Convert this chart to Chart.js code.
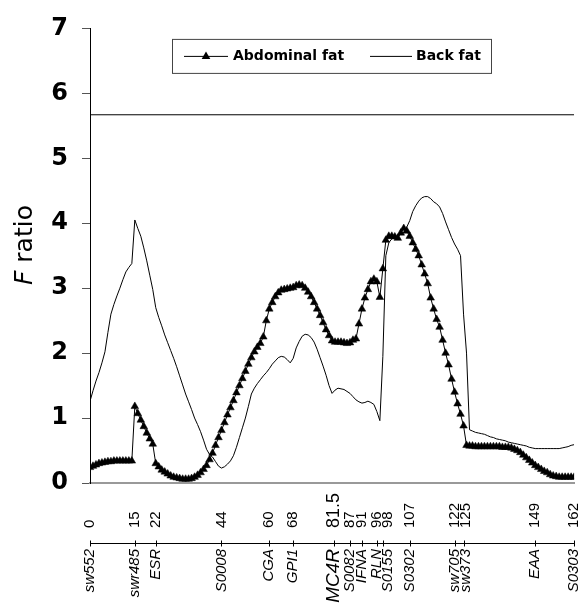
<!DOCTYPE html>
<html lang="en">
<head>
<meta charset="utf-8">
<title>F ratio</title>
<script src="https://cdn.jsdelivr.net/npm/chart.js@4/dist/chart.umd.min.js"></script>
<style>body{margin:0;background:#fff}</style>
</head>
<body>
<canvas id="myChart" width="579" height="606"></canvas>
<script>
// map positions (cM), one sample per cM
const positions = [
  0,1,2,3,4,5,6,7,8,9,10,11,12,13,14,15,16,17,18,19,20,21,22,23,24,25,26,27,28,29,
  30,31,32,33,34,35,36,37,38,39,40,41,42,43,44,45,46,47,48,49,50,51,52,53,54,55,56,57,58,59,
  60,61,62,63,64,65,66,67,68,69,70,71,72,73,74,75,76,77,78,79,80,81,82,83,84,85,86,87,88,89,
  90,91,92,93,94,95,96,97,98,99,100,101,102,103,104,105,106,107,108,109,110,111,112,113,114,115,116,117,118,119,
  120,121,122,123,124,125,126,127,128,129,130,131,132,133,134,135,136,137,138,139,140,141,142,143,144,145,146,147,148,149,
  150,151,152,153,154,155,156,157,158,159,160,161,162
];
const abdominal = [
  0.24,0.26,0.28,0.30,0.31,0.32,0.33,0.33,0.34,0.34,0.34,0.34,0.34,0.34,0.34,
  1.18,1.07,0.97,0.87,0.77,0.68,0.60,0.30,
  0.25,0.20,0.17,0.14,0.11,0.09,0.08,0.07,0.06,0.06,0.06,0.07,0.09,0.12,0.16,0.21,0.27,
  0.36,0.46,0.58,0.70,0.81,0.93,1.05,1.16,1.27,1.39,1.50,1.61,1.72,1.83,1.93,2.02,2.09,2.15,2.25,
  2.50,2.68,2.78,2.87,2.93,2.97,2.98,2.99,3.00,3.01,3.04,3.05,3.04,3.00,2.94,2.87,2.78,2.68,2.58,2.47,2.36,2.27,2.19,
  2.17,2.17,2.17,2.16,2.15,2.16,2.20,2.22,2.45,2.68,2.85,2.98,3.10,3.14,3.10,
  2.86,3.30,3.74,3.80,3.80,3.79,3.77,3.85,3.92,3.88,3.80,3.70,3.60,3.50,3.36,3.22,3.07,
  2.85,2.68,2.52,2.40,2.20,2.00,1.82,1.60,1.40,1.22,1.06,0.88,0.58,
  0.57,0.57,0.56,0.56,0.56,0.56,0.56,0.56,0.56,0.56,0.56,0.55,0.55,0.55,0.54,
  0.52,0.50,0.47,0.43,0.39,0.35,0.31,0.27,0.24,0.21,0.18,0.16,0.13,0.11,0.10,0.09,0.09,0.09,0.09,0.09,0.09
];
const backFat = [
  1.26,1.42,1.57,1.70,1.85,2.02,2.32,2.60,2.75,2.88,3.00,3.13,3.25,3.32,3.38,
  4.05,3.92,3.80,3.62,3.42,3.20,2.98,2.70,2.55,2.42,2.28,2.16,2.04,
  1.92,1.79,1.65,1.51,1.37,1.25,1.13,1.00,0.90,0.79,0.66,0.52,0.44,0.40,0.33,0.26,0.23,
  0.25,0.29,0.34,0.42,0.55,0.70,0.85,1.00,1.18,1.37,1.46,1.53,1.59,1.65,1.70,1.76,1.83,1.88,1.93,
  1.95,1.94,1.90,1.85,1.92,2.08,2.18,2.26,2.29,2.28,2.24,2.17,2.06,1.93,1.80,1.66,1.50,1.38,
  1.43,1.46,1.45,1.44,1.41,1.38,1.33,1.28,1.25,1.23,1.24,1.26,1.24,1.21,1.10,0.96,
  1.95,3.50,3.70,3.76,3.79,3.81,3.83,3.86,3.94,4.04,4.18,4.27,4.34,4.39,4.41,4.41,
  4.38,4.33,4.30,4.25,4.15,4.02,3.90,3.78,3.68,3.60,3.50,2.60,2.00,0.82,
  0.80,0.78,0.77,0.76,0.75,0.73,0.71,0.70,0.68,0.67,0.66,0.65,0.63,0.62,0.61,0.60,0.59,0.58,0.57,
  0.55,0.54,0.53,0.53,0.53,0.53,0.53,0.53,0.53,0.53,0.53,0.54,0.55,0.56,0.58,0.59
];
const threshold = 5.67;
const markerPos = [0, 15, 22, 44, 60, 68, 81.5, 87, 91, 96, 98, 107, 122, 125, 149, 162];
const markerNum = ['0','15','22','44','60','68','81.5','87','91','96','98','107','122','125','149','162'];
const markerName = ['sw552','swr485','ESR','S0008','CGA','GPI1','MC4R','S0082','IFNA','RLN','S0155','S0302','sw705','sw373','EAA','S0303'];
const yTicks = [0, 1, 2, 3, 4, 5, 6, 7];
const legendLabels = ['Abdominal fat', 'Back fat'];

const toXY = (ys) => ys.map((v, i) => ({x: positions[i], y: v}));

function triangle(ctx, x, y, r) {
  ctx.beginPath();
  ctx.moveTo(x, y - r);
  ctx.lineTo(x + r * 0.866, y + r * 0.5);
  ctx.lineTo(x - r * 0.866, y + r * 0.5);
  ctx.closePath();
  ctx.fill();
}

// y title, legend box and the marker map under the plot
const extras = {
  id: 'extras',
  afterDraw(chart) {
    const ctx = chart.ctx;
    const area = chart.chartArea;
    const xs = chart.scales.x;

    // y title: italic F + ratio
    ctx.save();
    ctx.translate(25, 245);
    ctx.rotate(-Math.PI / 2);
    ctx.fillStyle = '#000';
    ctx.textBaseline = 'middle';
    ctx.font = 'oblique 25px "DejaVu Sans"';
    const wF = ctx.measureText('F').width;
    ctx.font = '25px "DejaVu Sans"';
    const wR = ctx.measureText(' ratio').width;
    let sx = -(wF + wR) / 2;
    ctx.font = 'oblique 25px "DejaVu Sans"';
    ctx.textAlign = 'left';
    ctx.fillText('F', sx, 0);
    ctx.font = '25px "DejaVu Sans"';
    ctx.fillText(' ratio', sx + wF, 0);
    ctx.restore();

    // legend
    const lx = area.left + 82, ly = area.top + 10.5;
    ctx.save();
    ctx.fillStyle = '#fff';
    ctx.fillRect(lx, ly, 319, 34);
    ctx.strokeStyle = '#444';
    ctx.lineWidth = 1;
    ctx.strokeRect(lx + 0.5, ly + 0.5, 319, 34);
    const cy = ly + 17.5;
    ctx.strokeStyle = '#000';
    ctx.beginPath();
    ctx.moveTo(lx + 12, cy); ctx.lineTo(lx + 56, cy);
    ctx.moveTo(lx + 198, cy); ctx.lineTo(lx + 240, cy);
    ctx.stroke();
    ctx.fillStyle = '#000';
    triangle(ctx, lx + 34, cy, 5);
    ctx.font = 'bold 14px "DejaVu Sans"';
    ctx.textBaseline = 'middle';
    ctx.fillText(legendLabels[0], lx + 61, cy);
    ctx.fillText(legendLabels[1], lx + 244, cy);
    ctx.restore();

    // marker map
    const px = markerPos.map(p => xs.getPixelForValue(p));
    const lab = px.slice();
    for (let i = 1; i < lab.length; i++) {
      if (lab[i] - lab[i - 1] < 11) lab[i] = lab[i - 1] + 11;
    }
    const lineY = 543.5;
    ctx.save();
    ctx.strokeStyle = '#000';
    ctx.lineWidth = 1;
    ctx.beginPath();
    ctx.moveTo(px[0], lineY);
    ctx.lineTo(px[px.length - 1], lineY);
    px.forEach(p => { ctx.moveTo(Math.round(p) + 0.5, lineY - 3); ctx.lineTo(Math.round(p) + 0.5, lineY + 3); });
    ctx.stroke();
    ctx.fillStyle = '#000';
    ctx.textBaseline = 'middle';
    markerNum.forEach((t, i) => {
      ctx.save();
      ctx.translate(lab[i], 528);
      ctx.rotate(-Math.PI / 2);
      ctx.textAlign = 'left';
      ctx.font = (t === '81.5' ? '18px' : '15px') + ' "Liberation Sans"';
      ctx.fillText(t, 0, 0);
      ctx.restore();
    });
    markerName.forEach((t, i) => {
      ctx.save();
      ctx.translate(lab[i], 549);
      ctx.rotate(-Math.PI / 2);
      ctx.textAlign = 'right';
      ctx.font = 'italic ' + (t === 'MC4R' ? '19px' : '15px') + ' "Liberation Sans"';
      ctx.fillText(t, 0, 0);
      ctx.restore();
    });
    ctx.restore();
  }
};

new Chart(document.getElementById('myChart'), {
  type: 'line',
  data: {
    datasets: [
      {
        label: legendLabels[0],
        data: toXY(abdominal),
        borderColor: '#000',
        borderWidth: 1,
        pointStyle: 'triangle',
        pointRadius: 4.4,
        pointBackgroundColor: '#000',
        pointBorderColor: '#000',
        pointBorderWidth: 0.5
      },
      {
        label: legendLabels[1],
        data: toXY(backFat),
        borderColor: '#000',
        borderWidth: 1,
        pointRadius: 0
      },
      {
        label: 'threshold',
        data: [{x: positions[0], y: threshold}, {x: positions[positions.length - 1], y: threshold}],
        borderColor: '#000',
        borderWidth: 1,
        pointRadius: 0
      }
    ]
  },
  options: {
    responsive: false,
    animation: false,
    devicePixelRatio: 1,
    layout: {padding: {top: 23, right: 3, left: 0, bottom: 0}},
    plugins: {legend: {display: false}, tooltip: {enabled: false}},
    scales: {
      x: {
        type: 'linear',
        min: 0,
        max: 162,
        grid: {display: false},
        border: {color: '#999', width: 2},
        ticks: {display: false},
        afterFit: (axis) => { axis.height = 123; }
      },
      y: {
        min: 0,
        max: 7,
        afterBuildTicks: (axis) => { axis.ticks = yTicks.map(v => ({value: v})); },
        grid: {drawOnChartArea: false, tickLength: 8, color: '#555'},
        border: {color: '#000', width: 1},
        ticks: {
          color: '#000',
          padding: 14,
          font: {family: 'DejaVu Sans', size: 24, weight: 'bold'}
        },
        afterFit: (axis) => { axis.width = 90; }
      }
    }
  },
  plugins: [extras]
});
</script>
</body>
</html>
